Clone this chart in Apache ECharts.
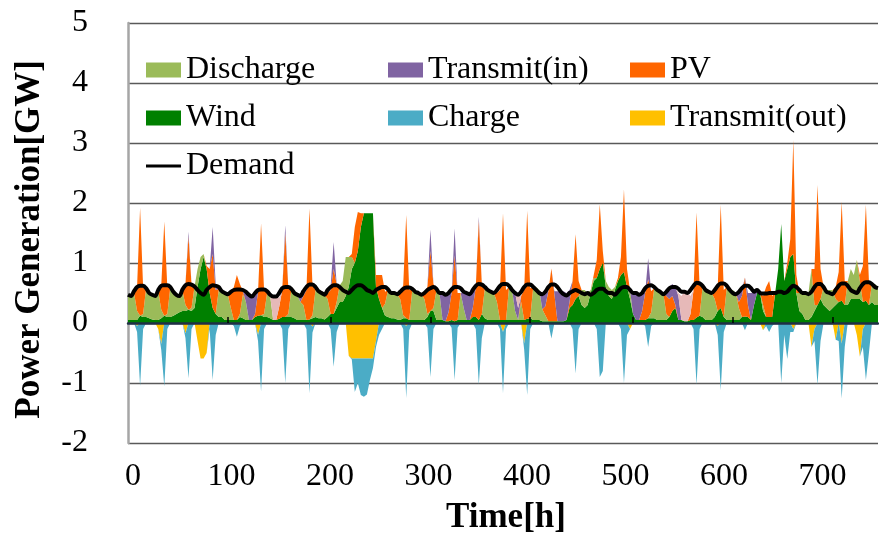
<!DOCTYPE html>
<html>
<head>
<meta charset="utf-8">
<script src="https://cdn.jsdelivr.net/npm/echarts@6/dist/echarts.min.js"></script>
<style>html,body{margin:0;padding:0;background:#fff}#c{width:879px;height:538px}</style>
</head>
<body>
<div id="c"></div>
<script>
// 3-hourly samples, hours 0..744 (31 days x 8 samples + final point)
const STEP = 3;
const xTickLabels = [0, 100, 200, 300, 400, 500, 600, 700];
const tickHours = [100, 200, 300, 400, 500, 600, 700];
const yTicks = [-2, -1, 0, 1, 2, 3, 4, 5];

const wind = [
 .05,.05,.05,.05,.12,.10,.10,.08,
 .06,.05,.05,.08,.12,.10,.10,.12,
 .15,.18,.20,.20,.22,.20,.25,.60,
 .90,1.10,.90,.50,.25,.15,.10,.10,
 .05,.05,.05,.05,.05,.10,.08,.05,
 .05,.05,.10,.12,.13,.10,.10,.08,
 .05,.05,.07,.10,.10,.10,.10,.08,
 .05,.05,.05,.05,.06,.08,.10,.08,
 .08,.06,.10,.15,.15,.25,.35,.35,
 .45,.60,.90,1.00,1.20,1.60,1.83,1.83,
 1.83,1.83,.60,.40,.25,.12,.10,.08,
 .08,.06,.05,.08,.08,.05,.05,.05,
 .05,.05,.05,.10,.20,.20,.05,.05,
 .05,.03,.03,.05,.03,.05,.05,.05,
 .05,.05,.10,.10,.05,.15,.08,.05,
 .05,.05,.05,.05,.05,.05,.05,.05,
 .05,.05,.05,.05,.07,.08,.05,.05,
 .05,.03,.03,.03,.03,.03,.03,.03,
 .03,.05,.25,.30,.40,.45,.30,.25,
 .30,.50,.70,.75,.90,1.00,.60,.45,
 .40,.55,.70,.80,.85,.60,.40,.15,
 .05,.05,.05,.05,.08,.08,.08,.05,
 .05,.05,.05,.10,.20,.25,.05,.05,
 .03,.03,.05,.05,.09,.12,.10,.05,
 .05,.05,.10,.20,.25,.10,.05,.05,
 .05,.05,.05,.10,.11,.10,.05,.30,
 .50,.50,.20,.10,.10,.10,.50,.90,
 1.65,.70,.90,1.10,1.15,.50,.20,.15,
 .05,.05,.10,.20,.30,.40,.30,.25,
 .20,.25,.30,.35,.37,.30,.30,.40,
 .40,.40,.40,.35,.37,.30,.35,.30,
 .30
];

const discharge = [
 .42,.40,.45,.15,0,.05,.48,.42,
 .41,.40,.48,.14,0,.05,.50,.40,
 .32,.27,.34,.10,0,.05,.36,.30,
 .20,.05,0,0,0,0,.45,.45,
 .47,.43,.20,0,0,.05,.40,.30,
 0,0,0,0,0,.05,.40,.38,
 0,0,0,0,0,.05,.45,.42,
 .42,.30,.25,0,0,.05,.45,.45,
 .42,.40,.30,0,0,.10,.28,.35,
 .65,.50,.20,0,0,0,0,0,
 0,0,0,0,0,.20,.45,.45,
 .45,.42,.35,.05,0,0,.50,.45,
 .45,.43,.35,.05,0,.05,.50,.45,
 0,0,0,0,0,0,.45,.20,
 0,0,0,0,0,0,.50,.50,
 .50,.45,.30,0,0,0,.55,.50,
 .15,0,.30,0,0,0,.55,.55,
 .50,.20,.10,0,0,0,0,0,
 0,0,0,0,0,0,.25,.30,
 .20,.05,.05,0,0,0,.10,.15,
 .15,.05,0,0,0,0,.15,0,
 0,0,0,0,0,.10,.50,.50,
 .50,.45,.10,0,0,0,0,0,
 0,0,0,0,0,0,.50,.50,
 .50,.45,.30,0,0,0,.55,.50,
 .50,.45,.20,0,0,0,0,0,
 0,0,.10,0,0,0,0,0,
 0,0,0,0,0,0,.30,.35,
 .45,.45,.80,.10,0,0,.30,.30,
 .35,.30,.10,0,0,0,.40,.50,
 .40,.65,.30,0,0,0,.30,.35,
 .30
];

const pv = [
 0,0,.02,.40,1.80,.45,0,0,
 0,0,.02,.40,1.57,.45,0,0,
 0,0,.02,.35,1.22,.40,0,0,
 0,0,.05,.40,.90,.40,.02,0,
 0,0,.25,.55,.75,.50,.05,0,
 0,0,.05,.40,1.53,.40,0,0,
 0,0,.20,.45,1.40,.45,0,0,
 0,0,.15,.50,1.85,.50,0,0,
 0,0,.10,.40,.75,.30,0,0,
 0,0,.05,.60,.65,.23,0,0,
 0,0,.20,.40,.55,.20,0,0,
 0,0,.10,.50,1.72,.50,0,0,
 0,0,.10,.45,1.00,.40,0,0,
 0,0,.15,.45,1.10,.45,0,0,
 0,0,.15,.50,1.65,.50,0,0,
 0,0,.15,.50,1.78,.50,0,0,
 0,0,.10,.50,1.80,.50,0,0,
 0,0,.15,.50,.88,.45,0,0,
 0,0,.10,.40,1.08,.25,0,0,
 0,0,.05,.30,1.08,.20,0,0,
 0,0,.05,.30,1.38,.30,0,0,
 0,0,.15,.45,.65,.35,0,0,
 0,0,.30,.30,.25,.05,0,0,
 0,0,.10,.50,1.75,.50,0,0,
 0,0,.15,.40,1.72,.45,0,0,
 0,0,.10,.35,.65,.20,0,0,
 0,0,.15,.50,.60,.35,0,0,
 0,0,.10,.30,1.90,.30,0,0,
 0,0,0,.60,2.00,.50,0,0,
 0,0,.20,.50,1.65,.40,0,0,
 0,0,.10,.60,1.60,.40,0,0,
 0
];

const transmitIn = [
 0,0,0,0,0,0,0,0,
 0,0,0,0,0,0,0,0,
 0,0,0,0,.08,0,0,0,
 0,0,0,0,.45,.10,0,0,
 0,0,0,0,0,0,0,.15,
 .42,.40,.30,0,0,0,0,0,
 0,0,0,0,.13,0,0,0,
 0,.08,.10,0,0,0,0,0,
 0,0,0,.05,.45,0,0,0,
 0,0,0,0,0,0,0,0,
 0,0,0,0,0,0,0,0,
 0,0,0,0,0,0,0,0,
 0,0,0,0,.36,0,0,0,
 .45,.45,.30,0,.45,0,0,.25,
 .45,.45,.30,0,.07,0,0,0,
 0,0,0,0,0,0,0,0,
 .30,.20,0,0,0,0,0,0,
 0,.25,.20,0,0,.05,.50,.50,
 .50,.45,.20,0,0,0,0,0,
 0,0,0,0,0,0,0,0,
 0,0,0,0,0,0,0,.35,
 .45,.45,.30,0,.35,0,0,0,
 0,0,.10,.20,.20,.30,.40,0,
 0,0,0,0,0,0,0,0,
 0,0,0,0,0,0,0,0,
 0,0,.15,.10,0,.20,.45,.20,
 .05,0,0,0,0,0,0,0,
 0,0,0,0,0,0,0,0,
 0,0,0,0,0,0,0,0,
 0,0,0,0,0,0,0,0,
 0,0,0,0,0,0,0,0,
 0
];

const other = [
 0,0,0,0,0,0,0,0,
 0,0,0,0,0,0,0,0,
 0,0,0,0,0,0,0,0,
 0,0,0,0,0,0,0,0,
 0,0,0,0,0,0,0,0,
 0,0,0,0,0,0,0,0,
 .40,.38,.15,0,0,0,0,0,
 0,0,0,0,0,0,0,0,
 0,0,0,0,0,0,0,0,
 0,0,0,0,0,0,0,0,
 0,0,0,0,0,0,0,0,
 0,0,0,0,0,0,0,0,
 0,0,0,0,0,0,0,0,
 0,0,0,0,0,0,0,0,
 0,0,0,0,0,0,0,0,
 0,0,0,0,0,0,0,0,
 0,.20,0,0,0,0,0,0,
 0,0,0,0,0,0,0,0,
 0,0,0,0,0,0,0,0,
 0,0,0,0,0,0,0,0,
 0,0,0,0,0,0,0,0,
 0,0,0,0,0,0,0,0,
 0,0,0,0,0,0,.05,.40,
 .50,.48,.30,0,0,0,0,0,
 0,0,0,0,0,0,0,0,
 0,0,0,0,0,0,0,0,
 0,0,0,0,0,0,0,0,
 0,0,0,0,0,0,0,0,
 0,0,0,0,0,0,0,0,
 0,0,0,0,0,0,0,0,
 0,0,0,0,0,0,0,0,
 0
];

const transmitOut = [
 0,0,0,-.05,0,0,0,0,
 0,0,-.10,-.35,0,0,0,0,
 0,0,0,-.17,0,0,0,-.30,
 -.59,-.59,-.50,0,0,0,0,0,
 0,0,0,0,0,0,0,0,
 0,0,0,-.20,0,0,0,0,
 0,0,0,0,0,0,0,0,
 0,0,0,0,0,-.06,0,0,
 0,0,0,0,0,0,0,0,
 0,-.55,-.59,-.59,-.59,-.59,-.59,-.59,
 -.59,-.59,-.30,0,0,0,0,0,
 0,0,0,0,-.05,0,0,0,
 0,0,0,0,0,0,0,0,
 0,0,0,0,0,0,0,0,
 0,0,0,0,0,0,0,0,
 0,0,0,0,-.15,0,0,0,
 0,0,0,-.34,0,0,0,0,
 0,0,0,0,0,0,0,0,
 0,0,0,0,0,0,0,0,
 0,0,0,0,0,0,0,0,
 0,0,0,0,0,0,-.10,0,
 0,0,0,0,0,0,0,0,
 0,0,0,0,0,0,0,0,
 0,0,0,0,0,0,0,0,
 0,0,0,-.05,0,0,0,0,
 0,0,0,0,0,0,0,0,
 0,0,-.12,0,0,0,0,0,
 0,0,0,0,-.10,0,0,0,
 0,0,-.40,-.10,0,0,0,0,
 0,0,-.28,0,-.34,0,0,0,
 0,-.20,-.56,-.10,0,0,0,0,
 0
];

const charge = [
 0,0,0,-.10,-1.05,-.10,0,0,
 0,0,0,-.10,-1.06,-.10,0,0,
 0,0,0,-.08,-.92,-.10,0,0,
 0,0,0,-.10,-.95,-.20,0,0,
 0,0,0,-.05,-.23,-.05,0,0,
 0,0,0,-.10,-1.14,-.10,0,0,
 0,0,0,-.10,-1.00,-.10,0,0,
 0,0,0,-.10,-1.17,-.10,0,0,
 0,0,0,-.10,-.73,-.15,0,0,
 0,0,-.02,-.56,-.41,-.61,-.64,-.60,
 -.36,-.16,-.10,-.20,-.10,0,0,0,
 0,0,0,-.10,-1.20,-.12,0,0,
 0,0,0,-.08,-.90,-.10,0,0,
 0,0,0,-.08,-.95,-.08,0,0,
 0,0,0,-.10,-1.03,-.25,0,0,
 0,0,0,-.10,-1.02,-.10,0,0,
 0,0,0,-.10,-1.20,-.10,0,0,
 0,0,0,0,-.26,0,0,0,
 0,0,0,-.10,-.84,-.10,0,0,
 0,0,0,-.10,-.90,-.80,0,0,
 0,0,0,-.10,-1.00,-.20,0,0,
 0,0,0,-.05,-.40,-.05,0,0,
 0,0,0,0,0,0,0,0,
 0,0,0,-.10,-1.03,-.10,0,0,
 0,0,0,-.15,-1.12,-.15,0,0,
 0,0,0,0,-.12,0,0,0,
 0,0,0,-.05,-.15,-.05,0,0,
 -1.00,-.20,-.60,-.15,-.05,0,0,0,
 0,0,0,-.20,-1.03,-.30,0,0,
 0,0,0,-.30,-.92,-.40,0,0,
 0,0,0,-.30,-.95,-.50,0,0,
 0
];

const demand = [
 .47,.45,.53,.60,.62,.62,.58,.50,
 .47,.45,.55,.62,.63,.63,.60,.52,
 .47,.45,.56,.63,.65,.64,.61,.55,
 .50,.47,.55,.60,.63,.62,.60,.53,
 .50,.48,.52,.55,.56,.56,.55,.52,
 .47,.44,.50,.55,.56,.56,.53,.47,
 .44,.44,.50,.58,.60,.60,.57,.50,
 .47,.45,.53,.60,.64,.64,.60,.53,
 .50,.47,.55,.60,.63,.63,.60,.55,
 .52,.50,.55,.60,.63,.63,.60,.55,
 .53,.50,.55,.58,.60,.60,.56,.50,
 .50,.48,.52,.57,.59,.59,.57,.52,
 .50,.47,.50,.55,.58,.60,.57,.50,
 .50,.47,.50,.56,.60,.60,.58,.52,
 .50,.48,.55,.62,.65,.64,.60,.55,
 .52,.50,.55,.62,.65,.65,.62,.55,
 .50,.47,.52,.60,.64,.64,.60,.55,
 .50,.48,.52,.60,.64,.64,.60,.53,
 .48,.46,.50,.53,.55,.53,.50,.48,
 .50,.47,.50,.55,.57,.57,.53,.50,
 .50,.47,.52,.58,.60,.60,.55,.50,
 .50,.47,.50,.58,.62,.63,.60,.55,
 .52,.48,.52,.58,.60,.60,.57,.52,
 .52,.50,.55,.62,.67,.66,.62,.55,
 .52,.50,.55,.62,.66,.66,.62,.55,
 .50,.48,.52,.58,.62,.62,.58,.52,
 .55,.50,.49,.49,.50,.50,.50,.52,
 .52,.50,.52,.58,.62,.60,.55,.50,
 .50,.48,.52,.60,.65,.65,.60,.52,
 .50,.48,.55,.62,.66,.66,.62,.55,
 .52,.50,.58,.65,.68,.68,.65,.60,
 .58
];

const hours = wind.map((_, i) => String(i * STEP));
const tickIdx = tickHours.map(h => Math.round(h / STEP));

const FONT = 'Liberation Serif, Times New Roman, serif';

function area(name, arr, color, stack) {
  return {
    name: name, type: 'line', stack: stack, data: arr,
    xAxisIndex: 0, yAxisIndex: 0,
    symbol: 'none', showSymbol: false, sampling: 'none',
    color: color, itemStyle: { color: color },
    lineStyle: { width: 0, color: color },
    areaStyle: { color: color, opacity: 1 },
    emphasis: { disabled: true }, z: 2
  };
}

function legendItem(name, left, top, opts) {
  return Object.assign({
    data: [name], left: left, top: top, padding: 0,
    itemWidth: 35, itemHeight: 15, icon: 'rect', selectedMode: false,
    itemStyle: { borderWidth: 0 },
    textStyle: { fontFamily: FONT, fontSize: 32, color: '#000', lineHeight: 32 }
  }, opts || {});
}

const chart = echarts.init(document.getElementById('c'), null, { renderer: 'canvas' });
chart.setOption({
  animation: false,
  backgroundColor: '#fff',
  grid: { left: 128, top: 23, width: 750, height: 420, containLabel: false },
  xAxis: [
    {
      type: 'category', data: hours, boundaryGap: false, position: 'bottom', z: 5,
      axisLine: { show: true, onZero: true, lineStyle: { color: '#1f2f46', width: 2.5 } },
      axisTick: { show: true, inside: true, length: 6,
        interval: (idx) => tickIdx.indexOf(idx) >= 0,
        lineStyle: { color: '#000', width: 1.5 } },
      axisLabel: { show: false }, splitLine: { show: false }
    },
    {
      type: 'value', min: -5.08, max: 756.4, position: 'bottom',
      axisLine: { show: false, onZero: false }, axisTick: { show: false }, splitLine: { show: false },
      axisLabel: { customValues: xTickLabels, fontFamily: FONT, fontSize: 32, color: '#000', margin: 18 }
    }
  ],
  yAxis: {
    type: 'value', min: yTicks[0], max: yTicks[yTicks.length - 1], interval: 1,
    axisLine: { show: true, onZero: false, lineStyle: { color: '#a6a6a6', width: 2.5 } },
    axisTick: { show: false },
    axisLabel: { fontFamily: FONT, fontSize: 32, color: '#000', margin: 40 },
    splitLine: { show: true, lineStyle: { color: '#595959', width: 1.3 } }
  },
  legend: [
    legendItem('Discharge', 146, 54),
    legendItem('Transmit(in)', 388, 54),
    legendItem('PV', 630, 54),
    legendItem('Wind', 146, 102),
    legendItem('Charge', 388, 102),
    legendItem('Transmit(out)', 630, 102),
    legendItem('Demand', 146, 150, { itemHeight: 3 })
  ],
  graphic: [
    { type: 'text', left: 12, top: 60, rotation: Math.PI / 2,
      style: { text: 'Power Generation[GW]', font: 'bold 35px ' + FONT, fill: '#000' } },
    { type: 'text', left: 446, top: 500,
      style: { text: 'Time[h]', font: 'bold 35px ' + FONT, fill: '#000' } }
  ],
  series: [
    area('Wind', wind, '#008000', 'pos'),
    area('Discharge', discharge, '#9bbb59', 'pos'),
    area('PV', pv, '#ff6600', 'pos'),
    area('Transmit(in)', transmitIn, '#8064a2', 'pos'),
    area('Other', other, '#e6b9b8', 'pos'),
    area('Transmit(out)', transmitOut, '#ffc000', 'neg'),
    area('Charge', charge, '#4bacc6', 'neg'),
    {
      name: 'Demand', type: 'line', data: demand, xAxisIndex: 0, yAxisIndex: 0,
      symbol: 'none', showSymbol: false,
      smooth: 0.3, color: '#000', itemStyle: { color: '#000' },
      lineStyle: { color: '#000', width: 4 }, emphasis: { disabled: true }, z: 4
    }
  ]
});
</script>
</body>
</html>
